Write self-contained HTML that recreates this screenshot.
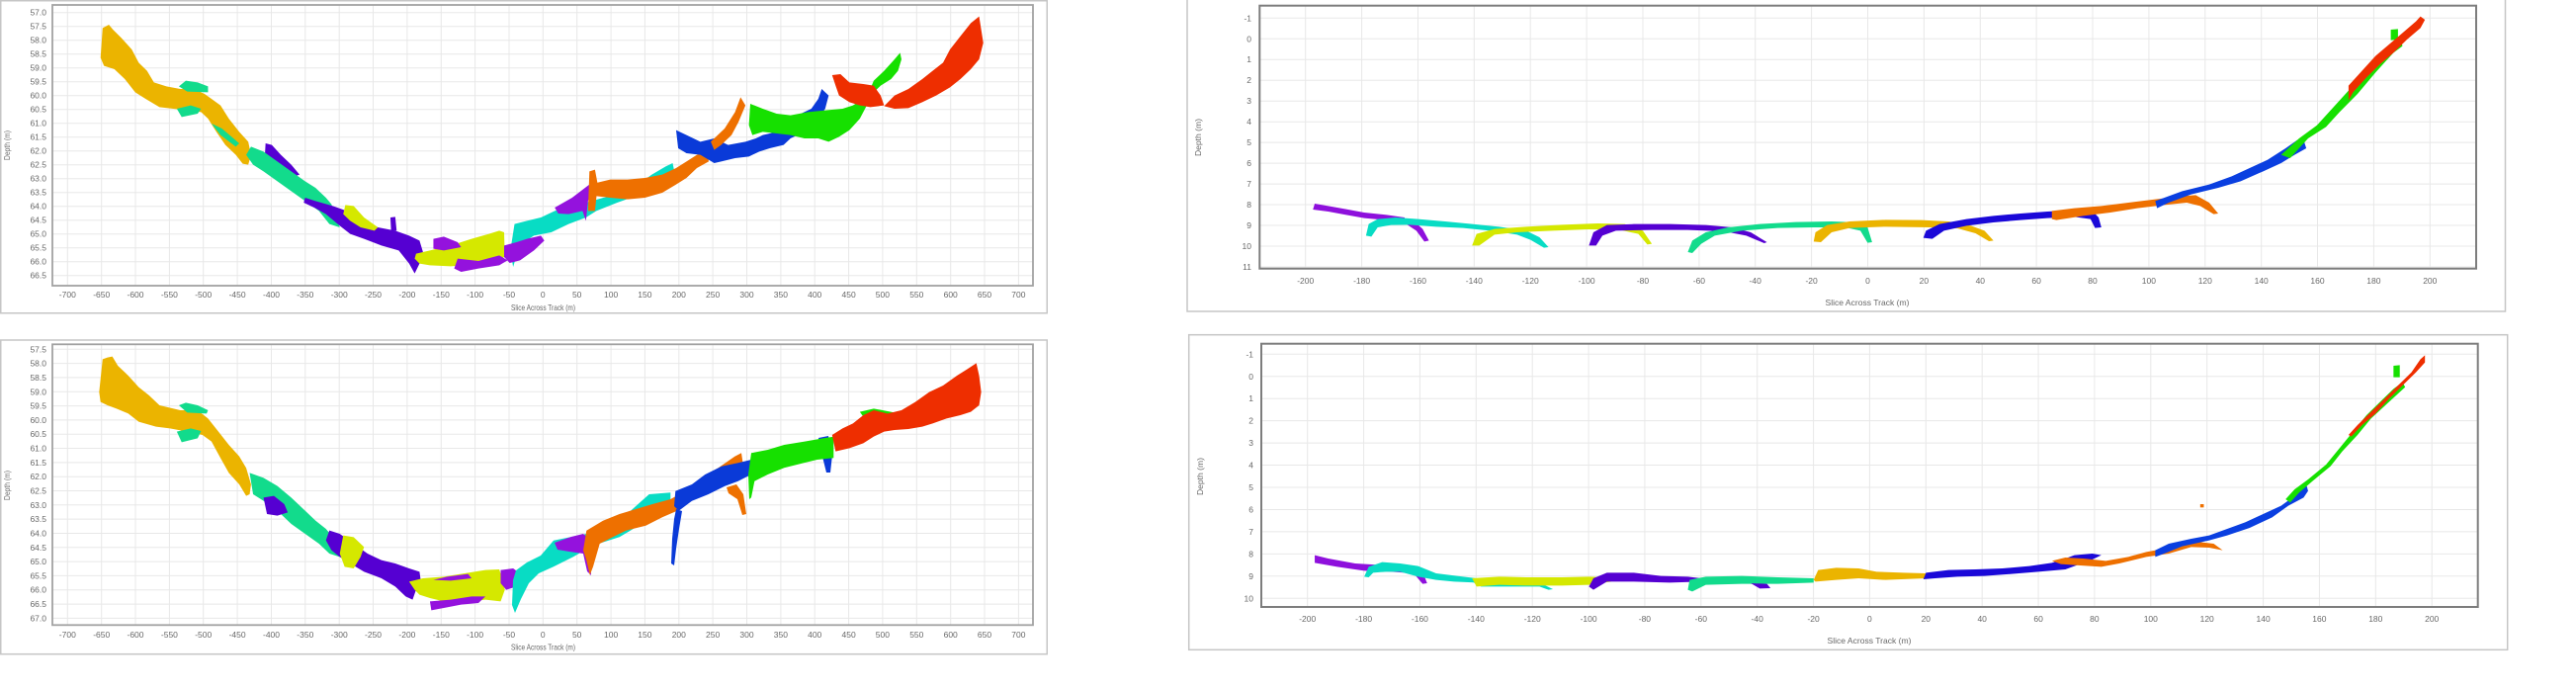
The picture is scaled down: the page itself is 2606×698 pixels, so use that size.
<!DOCTYPE html>
<html>
<head>
<meta charset="utf-8">
<style>
html,body{margin:0;padding:0;background:#fff;}
body{width:2606px;height:698px;overflow:hidden;}
svg{display:block;}
text{font-family:"Liberation Sans",sans-serif;fill:#686868;}
.t{font-size:8.5px;}
.ttl{font-size:8.5px;}
.g line{stroke:#e8e8e8;stroke-width:1;}
</style>
</head>
<body>
<svg width="2606" height="698" viewBox="0 0 2606 698" xmlns="http://www.w3.org/2000/svg">
<rect x="0" y="0" width="2606" height="698" fill="#fff"/>

<!-- ================= PANEL BORDERS ================= -->
<rect x="0.75" y="0.75" width="1058.5" height="316" fill="none" stroke="#c6c6c6" stroke-width="1.5"/>
<path d="M1201,-3 V315 H2534.5 V-3" fill="none" stroke="#c6c6c6" stroke-width="1.5"/>
<rect x="0.75" y="344" width="1058.5" height="317.7" fill="none" stroke="#c6c6c6" stroke-width="1.5"/>
<rect x="1202.7" y="338.7" width="1334" height="318.6" fill="none" stroke="#c6c6c6" stroke-width="1.5"/>

<!-- ================= TOP-LEFT GRID ================= -->
<g class="g">
<line x1="68.3" y1="5" x2="68.3" y2="289"/><line x1="102.7" y1="5" x2="102.7" y2="289"/><line x1="137.0" y1="5" x2="137.0" y2="289"/><line x1="171.4" y1="5" x2="171.4" y2="289"/><line x1="205.7" y1="5" x2="205.7" y2="289"/><line x1="240.1" y1="5" x2="240.1" y2="289"/><line x1="274.5" y1="5" x2="274.5" y2="289"/><line x1="308.8" y1="5" x2="308.8" y2="289"/><line x1="343.2" y1="5" x2="343.2" y2="289"/><line x1="377.5" y1="5" x2="377.5" y2="289"/><line x1="411.9" y1="5" x2="411.9" y2="289"/><line x1="446.3" y1="5" x2="446.3" y2="289"/><line x1="480.6" y1="5" x2="480.6" y2="289"/><line x1="515.0" y1="5" x2="515.0" y2="289"/><line x1="549.3" y1="5" x2="549.3" y2="289"/><line x1="583.7" y1="5" x2="583.7" y2="289"/><line x1="618.1" y1="5" x2="618.1" y2="289"/><line x1="652.4" y1="5" x2="652.4" y2="289"/><line x1="686.8" y1="5" x2="686.8" y2="289"/><line x1="721.1" y1="5" x2="721.1" y2="289"/><line x1="755.5" y1="5" x2="755.5" y2="289"/><line x1="789.9" y1="5" x2="789.9" y2="289"/><line x1="824.2" y1="5" x2="824.2" y2="289"/><line x1="858.6" y1="5" x2="858.6" y2="289"/><line x1="892.9" y1="5" x2="892.9" y2="289"/><line x1="927.3" y1="5" x2="927.3" y2="289"/><line x1="961.7" y1="5" x2="961.7" y2="289"/><line x1="996.0" y1="5" x2="996.0" y2="289"/><line x1="1030.4" y1="5" x2="1030.4" y2="289"/>
<line x1="53" y1="12.7" x2="1045" y2="12.7"/><line x1="53" y1="26.7" x2="1045" y2="26.7"/><line x1="53" y1="40.7" x2="1045" y2="40.7"/><line x1="53" y1="54.7" x2="1045" y2="54.7"/><line x1="53" y1="68.7" x2="1045" y2="68.7"/><line x1="53" y1="82.7" x2="1045" y2="82.7"/><line x1="53" y1="96.7" x2="1045" y2="96.7"/><line x1="53" y1="110.7" x2="1045" y2="110.7"/><line x1="53" y1="124.7" x2="1045" y2="124.7"/><line x1="53" y1="138.7" x2="1045" y2="138.7"/><line x1="53" y1="152.7" x2="1045" y2="152.7"/><line x1="53" y1="166.7" x2="1045" y2="166.7"/><line x1="53" y1="180.7" x2="1045" y2="180.7"/><line x1="53" y1="194.7" x2="1045" y2="194.7"/><line x1="53" y1="208.7" x2="1045" y2="208.7"/><line x1="53" y1="222.7" x2="1045" y2="222.7"/><line x1="53" y1="236.7" x2="1045" y2="236.7"/><line x1="53" y1="250.7" x2="1045" y2="250.7"/><line x1="53" y1="264.7" x2="1045" y2="264.7"/><line x1="53" y1="278.7" x2="1045" y2="278.7"/>
</g>

<!-- ================= BOTTOM-LEFT GRID ================= -->
<g class="g">
<line x1="68.3" y1="348" x2="68.3" y2="632"/><line x1="102.7" y1="348" x2="102.7" y2="632"/><line x1="137.0" y1="348" x2="137.0" y2="632"/><line x1="171.4" y1="348" x2="171.4" y2="632"/><line x1="205.7" y1="348" x2="205.7" y2="632"/><line x1="240.1" y1="348" x2="240.1" y2="632"/><line x1="274.5" y1="348" x2="274.5" y2="632"/><line x1="308.8" y1="348" x2="308.8" y2="632"/><line x1="343.2" y1="348" x2="343.2" y2="632"/><line x1="377.5" y1="348" x2="377.5" y2="632"/><line x1="411.9" y1="348" x2="411.9" y2="632"/><line x1="446.3" y1="348" x2="446.3" y2="632"/><line x1="480.6" y1="348" x2="480.6" y2="632"/><line x1="515.0" y1="348" x2="515.0" y2="632"/><line x1="549.3" y1="348" x2="549.3" y2="632"/><line x1="583.7" y1="348" x2="583.7" y2="632"/><line x1="618.1" y1="348" x2="618.1" y2="632"/><line x1="652.4" y1="348" x2="652.4" y2="632"/><line x1="686.8" y1="348" x2="686.8" y2="632"/><line x1="721.1" y1="348" x2="721.1" y2="632"/><line x1="755.5" y1="348" x2="755.5" y2="632"/><line x1="789.9" y1="348" x2="789.9" y2="632"/><line x1="824.2" y1="348" x2="824.2" y2="632"/><line x1="858.6" y1="348" x2="858.6" y2="632"/><line x1="892.9" y1="348" x2="892.9" y2="632"/><line x1="927.3" y1="348" x2="927.3" y2="632"/><line x1="961.7" y1="348" x2="961.7" y2="632"/><line x1="996.0" y1="348" x2="996.0" y2="632"/><line x1="1030.4" y1="348" x2="1030.4" y2="632"/>
<line x1="53" y1="353.3" x2="1045" y2="353.3"/><line x1="53" y1="367.6" x2="1045" y2="367.6"/><line x1="53" y1="381.9" x2="1045" y2="381.9"/><line x1="53" y1="396.3" x2="1045" y2="396.3"/><line x1="53" y1="410.6" x2="1045" y2="410.6"/><line x1="53" y1="424.9" x2="1045" y2="424.9"/><line x1="53" y1="439.2" x2="1045" y2="439.2"/><line x1="53" y1="453.5" x2="1045" y2="453.5"/><line x1="53" y1="467.9" x2="1045" y2="467.9"/><line x1="53" y1="482.2" x2="1045" y2="482.2"/><line x1="53" y1="496.5" x2="1045" y2="496.5"/><line x1="53" y1="510.8" x2="1045" y2="510.8"/><line x1="53" y1="525.1" x2="1045" y2="525.1"/><line x1="53" y1="539.5" x2="1045" y2="539.5"/><line x1="53" y1="553.8" x2="1045" y2="553.8"/><line x1="53" y1="568.1" x2="1045" y2="568.1"/><line x1="53" y1="582.4" x2="1045" y2="582.4"/><line x1="53" y1="596.7" x2="1045" y2="596.7"/><line x1="53" y1="611.1" x2="1045" y2="611.1"/><line x1="53" y1="625.4" x2="1045" y2="625.4"/>
</g>

<!-- ================= TOP-RIGHT GRID ================= -->
<g class="g">
<line x1="1320.7" y1="6" x2="1320.7" y2="271"/><line x1="1377.6" y1="6" x2="1377.6" y2="271"/><line x1="1434.5" y1="6" x2="1434.5" y2="271"/><line x1="1491.3" y1="6" x2="1491.3" y2="271"/><line x1="1548.2" y1="6" x2="1548.2" y2="271"/><line x1="1605.1" y1="6" x2="1605.1" y2="271"/><line x1="1662.0" y1="6" x2="1662.0" y2="271"/><line x1="1718.9" y1="6" x2="1718.9" y2="271"/><line x1="1775.7" y1="6" x2="1775.7" y2="271"/><line x1="1832.6" y1="6" x2="1832.6" y2="271"/><line x1="1889.5" y1="6" x2="1889.5" y2="271"/><line x1="1946.4" y1="6" x2="1946.4" y2="271"/><line x1="2003.3" y1="6" x2="2003.3" y2="271"/><line x1="2060.1" y1="6" x2="2060.1" y2="271"/><line x1="2117.0" y1="6" x2="2117.0" y2="271"/><line x1="2173.9" y1="6" x2="2173.9" y2="271"/><line x1="2230.8" y1="6" x2="2230.8" y2="271"/><line x1="2287.7" y1="6" x2="2287.7" y2="271"/><line x1="2344.5" y1="6" x2="2344.5" y2="271"/><line x1="2401.4" y1="6" x2="2401.4" y2="271"/><line x1="2458.3" y1="6" x2="2458.3" y2="271"/>
<line x1="1274" y1="18.3" x2="2505" y2="18.3"/><line x1="1274" y1="39.3" x2="2505" y2="39.3"/><line x1="1274" y1="60.2" x2="2505" y2="60.2"/><line x1="1274" y1="81.2" x2="2505" y2="81.2"/><line x1="1274" y1="102.2" x2="2505" y2="102.2"/><line x1="1274" y1="123.2" x2="2505" y2="123.2"/><line x1="1274" y1="144.1" x2="2505" y2="144.1"/><line x1="1274" y1="165.1" x2="2505" y2="165.1"/><line x1="1274" y1="186.1" x2="2505" y2="186.1"/><line x1="1274" y1="207.0" x2="2505" y2="207.0"/><line x1="1274" y1="228.0" x2="2505" y2="228.0"/><line x1="1274" y1="249.0" x2="2505" y2="249.0"/><line x1="1274" y1="270.0" x2="2505" y2="270.0"/>
</g>

<!-- ================= BOTTOM-RIGHT GRID ================= -->
<g class="g">
<line x1="1322.7" y1="348" x2="1322.7" y2="614"/><line x1="1379.6" y1="348" x2="1379.6" y2="614"/><line x1="1436.4" y1="348" x2="1436.4" y2="614"/><line x1="1493.3" y1="348" x2="1493.3" y2="614"/><line x1="1550.2" y1="348" x2="1550.2" y2="614"/><line x1="1607.1" y1="348" x2="1607.1" y2="614"/><line x1="1663.9" y1="348" x2="1663.9" y2="614"/><line x1="1720.8" y1="348" x2="1720.8" y2="614"/><line x1="1777.7" y1="348" x2="1777.7" y2="614"/><line x1="1834.6" y1="348" x2="1834.6" y2="614"/><line x1="1891.4" y1="348" x2="1891.4" y2="614"/><line x1="1948.3" y1="348" x2="1948.3" y2="614"/><line x1="2005.2" y1="348" x2="2005.2" y2="614"/><line x1="2062.1" y1="348" x2="2062.1" y2="614"/><line x1="2118.9" y1="348" x2="2118.9" y2="614"/><line x1="2175.8" y1="348" x2="2175.8" y2="614"/><line x1="2232.7" y1="348" x2="2232.7" y2="614"/><line x1="2289.6" y1="348" x2="2289.6" y2="614"/><line x1="2346.4" y1="348" x2="2346.4" y2="614"/><line x1="2403.3" y1="348" x2="2403.3" y2="614"/><line x1="2460.2" y1="348" x2="2460.2" y2="614"/>
<line x1="1276" y1="358.3" x2="2506" y2="358.3"/><line x1="1276" y1="380.75" x2="2506" y2="380.75"/><line x1="1276" y1="403.2" x2="2506" y2="403.2"/><line x1="1276" y1="425.65" x2="2506" y2="425.65"/><line x1="1276" y1="448.1" x2="2506" y2="448.1"/><line x1="1276" y1="470.55" x2="2506" y2="470.55"/><line x1="1276" y1="493.0" x2="2506" y2="493.0"/><line x1="1276" y1="515.45" x2="2506" y2="515.45"/><line x1="1276" y1="537.9" x2="2506" y2="537.9"/><line x1="1276" y1="560.35" x2="2506" y2="560.35"/><line x1="1276" y1="582.8" x2="2506" y2="582.8"/><line x1="1276" y1="605.25" x2="2506" y2="605.25"/>
</g>

<!-- ================= TOP-LEFT DATA (zoom coords) ================= -->
<g transform="matrix(0.70151,0,0,0.33333,0,0)">
<polygon fill="#EBB400" points="145,175 148,85 157,75 163,90 175,115 190,150 200,190 212,215 222,250 240,262 260,270 278,268 295,285 305,300 318,320 330,360 345,400 358,430 362,470 358,500 350,497 340,470 325,440 312,400 300,360 290,340 270,335 250,330 230,325 210,300 195,280 180,240 165,210 150,200"/>
<polygon fill="#12DB8C" points="258,262 268,245 285,250 300,262 300,280 270,278"/>
<polygon fill="#12DB8C" points="255,330 275,320 290,330 285,345 262,355"/>
<polygon fill="#12DB8C" points="305,375 320,390 345,435 340,445 318,410"/>
<polygon fill="#5500D2" points="383,435 392,440 405,470 420,500 432,530 425,535 410,515 395,495 382,470"/>
<polygon fill="#12DB8C" points="362,445 380,460 400,490 420,520 440,550 455,570 470,600 478,620 490,690 475,680 460,640 440,610 420,580 400,550 380,520 365,500 355,470"/>
<polygon fill="#5500D2" points="440,600 455,610 480,625 500,640 520,660 545,690 570,700 590,715 605,730 610,765 605,800 598,830 590,800 575,760 550,745 525,725 505,710 490,685 470,650 455,632 438,615"/>
<polygon fill="#5500D2" points="563,660 570,658 572,700 564,700"/>
<polygon fill="#D5E800" points="498,622 510,625 525,660 545,690 540,700 520,690 505,670 495,650"/>
<polygon fill="#08DCC4" points="742,680 760,670 780,660 800,640 820,625 845,615 870,600 900,590 920,560 940,530 960,505 970,495 975,545 960,560 940,575 910,600 890,615 860,640 845,660 820,680 795,705 770,715 755,735 745,775 740,810 736,760"/>
<polygon fill="#D5E800" points="598,785 600,770 620,760 650,745 680,725 705,710 720,700 727,705 728,780 710,790 690,800 670,805 650,808 620,805 605,800"/>
<polygon fill="#9412DD" points="625,725 640,718 660,735 665,750 640,760 625,755"/>
<polygon fill="#9412DD" points="660,785 690,792 720,775 732,790 720,805 690,815 665,825 655,815"/>
<polygon fill="#9412DD" points="727,745 745,735 760,725 780,715 785,730 770,760 750,790 735,798 727,780"/>
<polygon fill="#9412DD" points="800,630 825,600 850,560 855,570 848,610 845,670 840,640 820,650 805,648"/>
<polygon fill="#EE7000" points="850,520 858,515 862,560 858,640 848,640"/>
<polygon fill="#EE7000" points="860,555 880,545 905,545 930,540 955,530 975,510 990,490 1005,470 1020,460 1022,490 1005,510 990,540 975,560 955,585 930,600 905,605 880,600 860,595"/>
<polygon fill="#0A3AD8" points="975,395 990,410 1010,430 1030,420 1050,440 1075,430 1090,420 1100,410 1120,400 1140,380 1150,350 1170,330 1180,300 1185,270 1195,290 1190,330 1180,360 1160,400 1140,420 1130,440 1110,450 1095,460 1080,475 1060,480 1040,490 1030,495 1010,470 990,465 978,450"/>
<polygon fill="#EE7000" points="1025,430 1045,390 1060,340 1068,295 1075,320 1065,370 1055,410 1040,440 1030,455"/>
<polygon fill="#16E000" points="1082,315 1100,330 1120,345 1140,350 1165,340 1190,335 1215,330 1230,320 1245,300 1255,270 1260,245 1275,215 1290,180 1298,160 1300,180 1295,215 1285,240 1270,260 1260,280 1250,320 1240,360 1225,395 1210,415 1195,430 1180,420 1160,420 1140,410 1120,405 1100,400 1085,410 1080,380"/>
<polygon fill="#EE2E00" points="1200,228 1212,225 1225,250 1245,255 1260,260 1270,290 1275,320 1255,325 1240,320 1225,310 1210,290 1205,260"/>
<polygon fill="#EE2E00" points="1275,322 1290,290 1310,270 1330,240 1345,215 1360,190 1370,150 1385,110 1400,70 1412,50 1418,130 1412,180 1400,210 1385,240 1370,265 1350,290 1330,310 1310,328 1290,330"/>
</g>

<!-- ================= TOP-RIGHT DATA ================= -->
<g transform="matrix(0.90942,0,0,0.33333,1180,0)">
<polygon fill="#8E10DC" points="165,618 180,625 200,635 220,645 245,652 265,660 265,672 240,667 220,662 200,652 180,642 163,636"/>
<polygon fill="#8E10DC" points="262,665 275,670 285,695 292,730 287,733 278,700 268,682"/>
<polygon fill="#08DCC4" points="222,715 225,680 235,665 255,660 280,665 310,672 340,680 370,688 400,700 415,720 425,750 420,752 405,728 390,712 360,700 330,692 300,688 270,682 250,683 235,690 228,718"/>
<polygon fill="#D5E800" points="340,745 345,710 365,695 400,688 440,682 480,678 510,680 530,700 540,740 535,742 525,710 505,698 470,696 430,700 390,705 365,712 348,745"/>
<polygon fill="#5500D2" points="470,745 475,705 490,683 520,680 560,680 600,683 630,690 650,705 668,735 665,738 645,715 620,702 580,698 540,698 500,700 485,715 478,745"/>
<polygon fill="#12DB8C" points="580,765 585,730 600,705 625,690 660,680 700,674 740,672 770,675 780,690 785,735 780,737 772,700 755,690 720,690 680,692 640,700 610,715 595,740 585,768"/>
<polygon fill="#EBB400" points="720,733 722,705 735,683 760,672 800,667 840,668 870,672 895,685 910,700 920,730 915,732 900,708 880,693 850,690 800,688 760,692 740,705 728,735"/>
<polygon fill="#1A08D8" points="842,722 845,700 860,680 890,665 920,655 950,648 980,642 1010,638 1030,640 1037,660 1040,690 1033,692 1028,665 1010,658 980,662 950,668 920,675 890,685 865,700 852,725"/>
<polygon fill="#EE7000" points="985,640 1010,632 1040,625 1070,615 1100,605 1130,595 1145,592 1160,615 1170,648 1165,650 1150,625 1135,615 1110,622 1080,632 1050,645 1020,655 990,668 985,665"/>
<polygon fill="#0A3FE0" points="1100,610 1130,580 1160,560 1185,535 1205,510 1225,485 1245,450 1258,425 1265,425 1268,450 1255,470 1240,495 1220,520 1195,550 1170,570 1140,590 1115,615 1102,632"/>
<polygon fill="#16E000" points="1240,470 1260,420 1280,380 1300,320 1320,260 1340,200 1360,140 1372,110 1375,140 1365,160 1345,220 1325,285 1305,340 1290,385 1270,420 1250,480"/>
<polygon fill="#16E000" points="1362,90 1370,88 1370,120 1362,122"/>
<polygon fill="#EE2E00" points="1315,260 1330,215 1345,170 1360,135 1375,100 1390,65 1395,50 1400,60 1395,85 1380,120 1365,160 1350,195 1335,235 1320,280 1315,305"/>
</g>

<!-- ================= BOTTOM-LEFT DATA ================= -->
<g transform="matrix(0.70151,0,0,0.33333,0,330)">
<polygon fill="#EBB400" points="143,200 148,100 155,95 162,92 170,120 185,150 200,185 215,210 230,240 260,255 285,255 300,280 315,320 330,360 345,395 355,430 362,480 360,510 355,515 345,480 330,445 318,400 305,350 292,330 270,320 245,310 225,305 200,290 185,265 168,250 155,240 145,230"/>
<polygon fill="#12DB8C" points="258,240 268,232 285,240 300,255 298,265 270,262"/>
<polygon fill="#12DB8C" points="255,320 275,310 290,318 285,340 262,352"/>
<polygon fill="#12DB8C" points="360,445 380,460 400,485 420,520 440,560 455,590 470,615 480,640 490,700 475,690 460,660 440,630 420,600 400,560 380,530 365,510"/>
<polygon fill="#5500D2" points="380,520 395,515 410,540 415,565 400,575 385,570"/>
<polygon fill="#5500D2" points="470,650 475,620 490,630 510,660 530,690 550,710 570,720 590,735 605,745 608,790 600,800 595,830 585,820 570,790 550,765 525,745 505,720 490,700 478,680"/>
<polygon fill="#D5E800" points="495,635 510,640 525,670 520,700 510,735 497,730 490,690"/>
<polygon fill="#D5E800" points="598,800 590,775 610,765 640,760 670,750 700,740 720,738 725,770 728,800 722,835 700,830 680,835 660,840 640,835 620,825 605,815"/>
<polygon fill="#9412DD" points="620,835 650,830 680,820 700,820 690,840 665,845 640,855 622,862"/>
<polygon fill="#9412DD" points="625,770 645,760 675,752 680,765 650,772"/>
<polygon fill="#9412DD" points="722,780 722,740 740,735 750,750 745,790 730,800"/>
</g>
<!-- BL middle section in page coords -->
<polygon fill="#08DCC4" points="519,587 522,577 533,569 547,562 560,546.7 593.3,540 626.7,526.7 656.7,500 678.3,498.3 678.3,510 660,523.3 626.7,543.3 600,551.7 580,563.3 560,573.3 545,580 535,590 527,606 521,620 518,612"/>
<polygon fill="#9412DD" points="561,549 578,543 590,540 597,546 597,560 598,582 594,578 590,560 576,558 564,556"/>
<polygon fill="#EE7000" points="590,556.7 593.3,536.7 610,526.7 626.7,520 643.3,515 660,510 678.3,505 693.3,496.7 710,483.3 726.7,473.3 743.3,461.7 750,458.3 753.3,480 740,483.3 720,493.3 700,503.3 685,516.7 670,523.3 653.3,531.7 633.3,536.7 620,543.3 606.7,550 600,573.3 596.7,581.7 593.3,566.7"/>
<polygon fill="#EE7000" points="735,493 745,490 752,500 755,520 751,521 746,505 737,499"/>
<polygon fill="#0A3AD8" points="682,512 683.3,496.7 700,490 713.3,480 730,471.7 746.7,468.3 760,465 760,480 746.7,486.7 733.3,491.7 716.7,500 700,506.7 686.7,516.7"/>
<polygon fill="#0A3AD8" points="684,515 690,517 687,535 684,555 682,572 679,570 680,545 682,525"/>
<polygon fill="#0A3AD8" points="828,443 838,441 842,460 840,478 836,478 832,462"/>
<polygon fill="#16E000" points="757,480 760,458.3 776.7,455 793.3,450 813.3,446.7 833.3,443.3 843.3,441.7 843.3,463.3 826.7,465 813.3,468.3 793.3,473.3 776.7,480 763.3,486.7 760,503.3 758,505"/>
<g transform="matrix(0.70151,0,0,0.33333,0,330)">
<polygon fill="#16E000" points="1240,260 1260,250 1290,262 1300,275 1280,292 1250,290"/>
<polygon fill="#EE2E00" points="1200,330 1215,310 1230,295 1245,270 1260,255 1280,265 1300,255 1320,230 1340,200 1360,180 1380,150 1395,130 1408,112 1412,150 1415,200 1412,240 1400,260 1385,270 1365,280 1345,295 1330,305 1310,312 1290,315 1275,320 1260,335 1245,355 1225,370 1205,380"/>
</g>

<!-- ================= BOTTOM-RIGHT DATA ================= -->
<g transform="matrix(0.90942,0,0,0.33333,1180,330)">
<polygon fill="#8E10DC" points="165,695 180,705 210,720 240,725 270,730 285,745 290,780 285,782 275,750 250,745 220,742 190,730 165,718"/>
<polygon fill="#08DCC4" points="220,760 225,730 240,716 260,720 280,728 300,750 330,760 345,765 345,778 320,775 300,770 280,760 260,745 245,745 230,748 225,762"/>
<polygon fill="#08DCC4" points="340,775 420,785 430,798 425,800 415,790 350,790"/>
<polygon fill="#D5E800" points="340,765 370,760 400,762 440,762 470,760 490,762 495,775 470,785 440,787 400,787 370,785 345,790"/>
<polygon fill="#5500D2" points="470,790 475,765 490,748 520,748 550,758 580,760 595,765 595,775 560,778 520,775 490,775 475,800"/>
<polygon fill="#12DB8C" points="580,800 582,770 600,760 640,758 680,762 720,765 720,778 680,782 640,782 600,785 585,805"/>
<polygon fill="#5500D2" points="650,780 668,782 672,795 660,796"/>
<polygon fill="#EBB400" points="720,770 725,740 745,733 770,735 790,745 820,748 845,750 845,765 800,770 770,765 745,770 722,775"/>
<polygon fill="#1A08D8" points="842,768 845,748 870,740 900,738 930,735 960,728 985,718 1000,705 1010,695 1030,690 1040,695 1030,708 1000,738 970,745 940,752 910,758 880,760 855,765"/>
<polygon fill="#EE7000" points="985,712 1000,702 1020,705 1045,712 1070,700 1090,685 1110,675 1130,660 1150,655 1165,660 1175,680 1160,672 1140,670 1115,690 1090,700 1060,720 1040,730 1010,725 995,722"/>
<polygon fill="#EE7000" points="1150,540 1154,540 1154,550 1150,550"/>
<polygon fill="#0A3FE0" points="1100,680 1115,660 1140,645 1160,635 1180,615 1200,595 1220,570 1240,545 1255,515 1262,485 1268,480 1270,500 1265,520 1248,545 1230,580 1205,612 1180,635 1160,650 1130,668 1110,690 1100,700"/>
<polygon fill="#16E000" points="1245,525 1255,495 1270,465 1290,420 1305,370 1320,320 1335,270 1350,230 1365,190 1375,170 1378,185 1360,230 1340,280 1325,330 1308,380 1295,425 1275,470 1260,505 1250,535"/>
<polygon fill="#16E000" points="1365,120 1372,118 1372,155 1365,155"/>
<polygon fill="#EE2E00" points="1315,330 1325,300 1340,260 1355,220 1370,180 1385,140 1395,100 1400,88 1400,110 1390,140 1375,180 1360,220 1345,265 1330,300 1318,335"/>
</g>

<!-- ================= PLOT FRAMES ================= -->
<rect x="53" y="5" width="992" height="284" fill="none" stroke="#a2a2a2" stroke-width="1.8"/>
<rect x="53" y="348.3" width="992" height="284" fill="none" stroke="#a2a2a2" stroke-width="1.8"/>
<rect x="1274.3" y="5.7" width="1230.7" height="266" fill="none" stroke="#7d7d7d" stroke-width="2"/>
<rect x="1276" y="347.7" width="1230.7" height="266.3" fill="none" stroke="#7d7d7d" stroke-width="2"/>

<!-- ================= TOP-LEFT LABELS ================= -->
<g class="t" text-anchor="end">
<text x="47" y="15.7">57.0</text><text x="47" y="29.7">57.5</text><text x="47" y="43.7">58.0</text><text x="47" y="57.7">58.5</text><text x="47" y="71.7">59.0</text><text x="47" y="85.7">59.5</text><text x="47" y="99.7">60.0</text><text x="47" y="113.7">60.5</text><text x="47" y="127.7">61.0</text><text x="47" y="141.7">61.5</text><text x="47" y="155.7">62.0</text><text x="47" y="169.7">62.5</text><text x="47" y="183.7">63.0</text><text x="47" y="197.7">63.5</text><text x="47" y="211.7">64.0</text><text x="47" y="225.7">64.5</text><text x="47" y="239.7">65.0</text><text x="47" y="253.7">65.5</text><text x="47" y="267.7">66.0</text><text x="47" y="281.7">66.5</text>
</g>
<g class="t" text-anchor="middle">
<text x="68.3" y="301">-700</text><text x="102.7" y="301">-650</text><text x="137.0" y="301">-600</text><text x="171.4" y="301">-550</text><text x="205.7" y="301">-500</text><text x="240.1" y="301">-450</text><text x="274.5" y="301">-400</text><text x="308.8" y="301">-350</text><text x="343.2" y="301">-300</text><text x="377.5" y="301">-250</text><text x="411.9" y="301">-200</text><text x="446.3" y="301">-150</text><text x="480.6" y="301">-100</text><text x="515.0" y="301">-50</text><text x="549.3" y="301">0</text><text x="583.7" y="301">50</text><text x="618.1" y="301">100</text><text x="652.4" y="301">150</text><text x="686.8" y="301">200</text><text x="721.1" y="301">250</text><text x="755.5" y="301">300</text><text x="789.9" y="301">350</text><text x="824.2" y="301">400</text><text x="858.6" y="301">450</text><text x="892.9" y="301">500</text><text x="927.3" y="301">550</text><text x="961.7" y="301">600</text><text x="996.0" y="301">650</text><text x="1030.4" y="301">700</text>
</g>
<text class="ttl" x="517" y="314" textLength="65" lengthAdjust="spacingAndGlyphs">Slice Across Track (m)</text>
<text class="ttl" transform="translate(10,162) rotate(-90)" textLength="30" lengthAdjust="spacingAndGlyphs">Depth (m)</text>

<!-- ================= BOTTOM-LEFT LABELS ================= -->
<g class="t" text-anchor="end">
<text x="47" y="356.3">57.5</text><text x="47" y="370.6">58.0</text><text x="47" y="384.9">58.5</text><text x="47" y="399.3">59.0</text><text x="47" y="413.6">59.5</text><text x="47" y="427.9">60.0</text><text x="47" y="442.2">60.5</text><text x="47" y="456.5">61.0</text><text x="47" y="470.9">61.5</text><text x="47" y="485.2">62.0</text><text x="47" y="499.5">62.5</text><text x="47" y="513.8">63.0</text><text x="47" y="528.1">63.5</text><text x="47" y="542.5">64.0</text><text x="47" y="556.8">64.5</text><text x="47" y="571.1">65.0</text><text x="47" y="585.4">65.5</text><text x="47" y="599.7">66.0</text><text x="47" y="614.1">66.5</text><text x="47" y="628.4">67.0</text>
</g>
<g class="t" text-anchor="middle">
<text x="68.3" y="645">-700</text><text x="102.7" y="645">-650</text><text x="137.0" y="645">-600</text><text x="171.4" y="645">-550</text><text x="205.7" y="645">-500</text><text x="240.1" y="645">-450</text><text x="274.5" y="645">-400</text><text x="308.8" y="645">-350</text><text x="343.2" y="645">-300</text><text x="377.5" y="645">-250</text><text x="411.9" y="645">-200</text><text x="446.3" y="645">-150</text><text x="480.6" y="645">-100</text><text x="515.0" y="645">-50</text><text x="549.3" y="645">0</text><text x="583.7" y="645">50</text><text x="618.1" y="645">100</text><text x="652.4" y="645">150</text><text x="686.8" y="645">200</text><text x="721.1" y="645">250</text><text x="755.5" y="645">300</text><text x="789.9" y="645">350</text><text x="824.2" y="645">400</text><text x="858.6" y="645">450</text><text x="892.9" y="645">500</text><text x="927.3" y="645">550</text><text x="961.7" y="645">600</text><text x="996.0" y="645">650</text><text x="1030.4" y="645">700</text>
</g>
<text class="ttl" x="517" y="657.5" textLength="65" lengthAdjust="spacingAndGlyphs">Slice Across Track (m)</text>
<text class="ttl" transform="translate(10,506) rotate(-90)" textLength="30" lengthAdjust="spacingAndGlyphs">Depth (m)</text>

<!-- ================= TOP-RIGHT LABELS ================= -->
<g class="t" text-anchor="end">
<text x="1266" y="21.3">-1</text><text x="1266" y="42.3">0</text><text x="1266" y="63.2">1</text><text x="1266" y="84.2">2</text><text x="1266" y="105.2">3</text><text x="1266" y="126.2">4</text><text x="1266" y="147.1">5</text><text x="1266" y="168.1">6</text><text x="1266" y="189.1">7</text><text x="1266" y="210.0">8</text><text x="1266" y="231.0">9</text><text x="1266" y="252.0">10</text><text x="1266" y="273.0">11</text>
</g>
<g class="t" text-anchor="middle">
<text x="1320.7" y="287">-200</text><text x="1377.6" y="287">-180</text><text x="1434.5" y="287">-160</text><text x="1491.3" y="287">-140</text><text x="1548.2" y="287">-120</text><text x="1605.1" y="287">-100</text><text x="1662.0" y="287">-80</text><text x="1718.9" y="287">-60</text><text x="1775.7" y="287">-40</text><text x="1832.6" y="287">-20</text><text x="1889.5" y="287">0</text><text x="1946.4" y="287">20</text><text x="2003.3" y="287">40</text><text x="2060.1" y="287">60</text><text x="2117.0" y="287">80</text><text x="2173.9" y="287">100</text><text x="2230.8" y="287">120</text><text x="2287.7" y="287">140</text><text x="2344.5" y="287">160</text><text x="2401.4" y="287">180</text><text x="2458.3" y="287">200</text>
</g>
<text class="ttl" x="1846.5" y="309" textLength="85" lengthAdjust="spacingAndGlyphs">Slice Across Track (m)</text>
<text class="ttl" transform="translate(1215,158) rotate(-90)" textLength="38" lengthAdjust="spacingAndGlyphs">Depth (m)</text>

<!-- ================= BOTTOM-RIGHT LABELS ================= -->
<g class="t" text-anchor="end">
<text x="1268" y="361.3">-1</text><text x="1268" y="383.75">0</text><text x="1268" y="406.2">1</text><text x="1268" y="428.65">2</text><text x="1268" y="451.1">3</text><text x="1268" y="473.55">4</text><text x="1268" y="496.0">5</text><text x="1268" y="518.45">6</text><text x="1268" y="540.9">7</text><text x="1268" y="563.35">8</text><text x="1268" y="585.8">9</text><text x="1268" y="608.25">10</text>
</g>
<g class="t" text-anchor="middle">
<text x="1322.7" y="629">-200</text><text x="1379.6" y="629">-180</text><text x="1436.4" y="629">-160</text><text x="1493.3" y="629">-140</text><text x="1550.2" y="629">-120</text><text x="1607.1" y="629">-100</text><text x="1663.9" y="629">-80</text><text x="1720.8" y="629">-60</text><text x="1777.7" y="629">-40</text><text x="1834.6" y="629">-20</text><text x="1891.4" y="629">0</text><text x="1948.3" y="629">20</text><text x="2005.2" y="629">40</text><text x="2062.1" y="629">60</text><text x="2118.9" y="629">80</text><text x="2175.8" y="629">100</text><text x="2232.7" y="629">120</text><text x="2289.6" y="629">140</text><text x="2346.4" y="629">160</text><text x="2403.3" y="629">180</text><text x="2460.2" y="629">200</text>
</g>
<text class="ttl" x="1848.5" y="651" textLength="85" lengthAdjust="spacingAndGlyphs">Slice Across Track (m)</text>
<text class="ttl" transform="translate(1217,501) rotate(-90)" textLength="38" lengthAdjust="spacingAndGlyphs">Depth (m)</text>

</svg>
</body>
</html>
